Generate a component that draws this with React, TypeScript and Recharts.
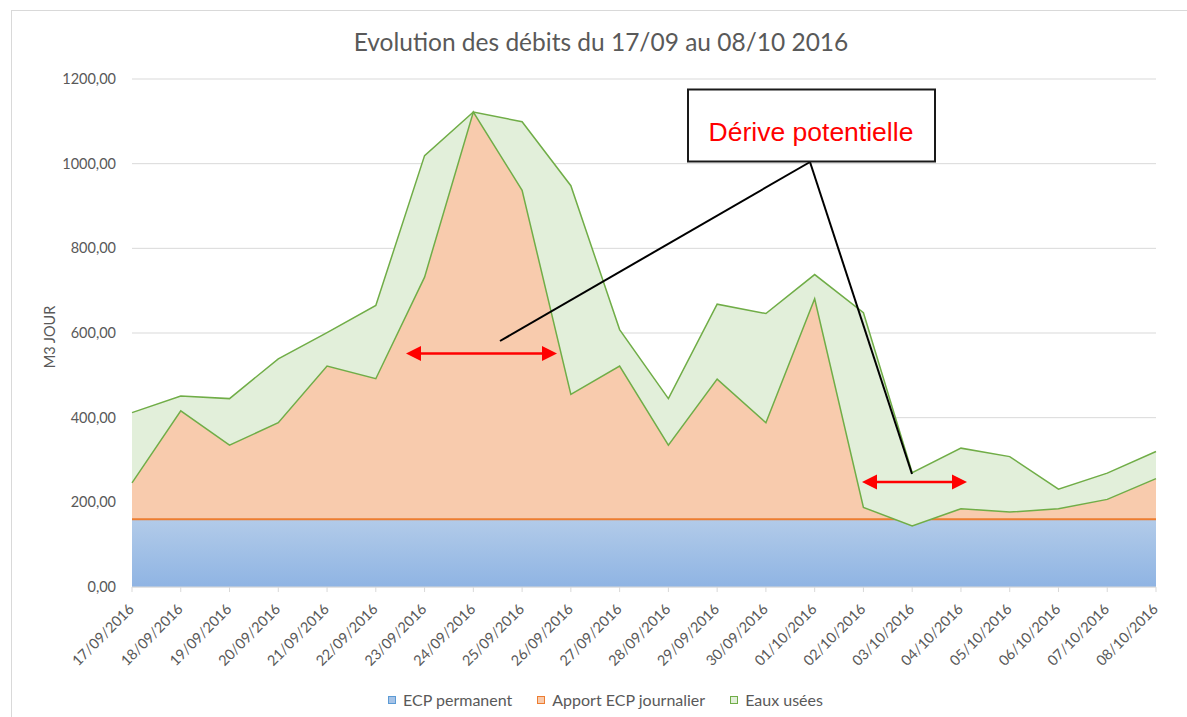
import { AreaChart, Area, XAxis, YAxis, CartesianGrid, Legend, Label } from 'recharts';

// Daily flows (m3/day)
const dates = [
  '17/09/2016', '18/09/2016', '19/09/2016', '20/09/2016', '21/09/2016', '22/09/2016',
  '23/09/2016', '24/09/2016', '25/09/2016', '26/09/2016', '27/09/2016', '28/09/2016',
  '29/09/2016', '30/09/2016', '01/10/2016', '02/10/2016', '03/10/2016', '04/10/2016',
  '05/10/2016', '06/10/2016', '07/10/2016', '08/10/2016',
];

// permanent parasitic water (constant base)
const ecpPermanent = [
  160, 160, 160, 160, 160, 160, 160, 160, 160, 160, 160,
  160, 160, 160, 160, 160, 160, 160, 160, 160, 160, 160,
];

// top of the "Apport ECP journalier" band (permanent + daily)
const ecpTotal = [
  246, 416, 335, 388, 522, 492, 732, 1122, 937, 455, 522,
  335, 491, 388, 681, 188, 144, 185, 177, 185, 207, 256,
];

// top of the "Eaux usées" band (total flow)
const totalFlow = [
  412, 451, 445, 539, 601, 665, 1019, 1122, 1099, 948, 608,
  445, 668, 646, 738, 648, 270, 328, 308, 231, 269, 320,
];

const yTicks = [0, 200, 400, 600, 800, 1000, 1200];

const legendItems = [
  { name: 'ECP permanent', fill: '#A6C3E7', stroke: '#5B9BD5' },
  { name: 'Apport ECP journalier', fill: '#F8CBAD', stroke: '#ED7D31' },
  { name: 'Eaux usées', fill: '#E2EFDA', stroke: '#70AD47' },
];

const TEXT = '#595959';
const FONT = 'Lato, "Open Sans", sans-serif';

const chartData = dates.map((date, i) => ({
  date,
  ecpPermanent: ecpPermanent[i],
  apport: [ecpPermanent[i], ecpTotal[i]],
  eaux: [ecpTotal[i], totalFlow[i]],
}));

function formatNumber(v: number): string {
  return v.toFixed(2).replace('.', ',');
}

function DateTick({ x, y, payload }: any) {
  const tx = x + 3;
  const ty = y + 16;
  return (
    <text
      x={tx}
      y={ty}
      transform={`rotate(-45, ${tx}, ${ty})`}
      textAnchor="end"
      fill={TEXT}
      fontSize={14.5}
      fontFamily={FONT}
    >
      {payload.value}
    </text>
  );
}

function LegendContent() {
  return (
    <div
      style={{
        display: 'flex',
        justifyContent: 'center',
        alignItems: 'center',
        gap: 25,
        paddingLeft: 24,
        fontFamily: FONT,
        fontSize: 16,
        color: TEXT,
      }}
    >
      {legendItems.map((item) => (
        <div key={item.name} style={{ display: 'flex', alignItems: 'center' }}>
          <span
            style={{
              display: 'inline-block',
              width: 6,
              height: 6,
              background: item.fill,
              border: `1px solid ${item.stroke}`,
              marginRight: 7,
            }}
          />
          <span>{item.name}</span>
        </div>
      ))}
    </div>
  );
}

function Annotations() {
  return (
    <svg width={1187} height={717} style={{ position: 'absolute', left: 0, top: 0, pointerEvents: 'none' }}>
      <text x={601} y={51} textAnchor="middle" fill={TEXT} fontSize={24.5} fontFamily={FONT}>
        Evolution des débits du 17/09 au 08/10 2016
      </text>

      {/* callout */}
      <line x1={810} y1={162} x2={500} y2={341} stroke="#000" strokeWidth={2} />
      <line x1={810} y1={162} x2={912} y2={474} stroke="#000" strokeWidth={2} />
      <rect x={688} y={89.5} width={247} height={72} fill="#fff" stroke="#1a1a1a" strokeWidth={2} />
      <text x={811} y={141} textAnchor="middle" fill="#FF0000" fontSize={26.5} fontFamily='"Liberation Sans", Arial, sans-serif'>
        Dérive potentielle
      </text>

      {/* red double arrows */}
      <line x1={418} y1={353.5} x2={545} y2={353.5} stroke="#FF0000" strokeWidth={2.5} />
      <polygon points="406,353.5 421,346 421,361" fill="#FF0000" />
      <polygon points="557,353.5 542,346 542,361" fill="#FF0000" />
      <line x1={874} y1={482} x2={955} y2={482} stroke="#FF0000" strokeWidth={2.5} />
      <polygon points="862,482 877,474.5 877,489.5" fill="#FF0000" />
      <polygon points="967,482 952,474.5 952,489.5" fill="#FF0000" />
    </svg>
  );
}

export default function App() {
  return (
    <div style={{ position: 'absolute', left: 0, top: 0, width: 1187, height: 717, overflow: 'hidden', background: '#fff' }}>
      <div
        style={{
          position: 'absolute',
          left: 11,
          top: 10,
          width: 1200,
          height: 720,
          border: '1px solid #D9D9D9',
        }}
      />
      <div style={{ position: 'absolute', left: 0, top: 0 }}>
        <AreaChart
          width={1187}
          height={717}
          data={chartData}
          margin={{ top: 79, right: 31, bottom: 0, left: 0 }}
        >
          <defs>
            <linearGradient id="blueFill" x1="0" y1="0" x2="0" y2="1">
              <stop offset="0%" stopColor="#B2CBE9" />
              <stop offset="100%" stopColor="#8FB4E3" />
            </linearGradient>
          </defs>
          <CartesianGrid vertical={false} stroke="#D9D9D9" strokeWidth={1} />
          <XAxis
            dataKey="date"
            interval={0}
            height={130}
            tick={<DateTick />}
            tickSize={5}
            tickMargin={2}
            tickLine={{ stroke: '#D9D9D9' }}
            axisLine={{ stroke: '#D9D9D9' }}
          />
          <YAxis
            width={132}
            domain={[0, 1200]}
            ticks={yTicks}
            tickFormatter={formatNumber}
            axisLine={false}
            tickLine={false}
            tickSize={0}
            tickMargin={16}
            tick={{ fill: TEXT, fontSize: 14.5, fontFamily: FONT }}
          >
            <Label
              content={({ viewBox }: any) => {
                const cx = 49;
                const cy = viewBox.y + viewBox.height / 2 + 4;
                return (
                  <text
                    x={cx}
                    y={cy}
                    transform={`rotate(-90, ${cx}, ${cy})`}
                    textAnchor="middle"
                    dominantBaseline="central"
                    fill={TEXT}
                    fontSize={14.5}
                    fontFamily={FONT}
                  >
                    M3 JOUR
                  </text>
                );
              }}
            />
          </YAxis>
          <Legend
            layout="horizontal"
            verticalAlign="middle"
            align="center"
            content={<LegendContent />}
            wrapperStyle={{ top: 690, left: 0, width: 1187 }}
          />
          {/* orange band first so the blue area's orange top edge stays fully visible */}
          <Area
            type="linear"
            dataKey="apport"
            name="Apport ECP journalier"
            fill="#F8CBAD"
            fillOpacity={1}
            stroke="none"
            isAnimationActive={false}
          />
          <Area
            type="linear"
            dataKey="ecpPermanent"
            name="ECP permanent"
            fill="url(#blueFill)"
            fillOpacity={1}
            stroke="#ED7D31"
            strokeWidth={2}
            isAnimationActive={false}
          />
          <Area
            type="linear"
            dataKey="eaux"
            name="Eaux usées"
            fill="#E2EFDA"
            fillOpacity={1}
            stroke="#70AD47"
            strokeWidth={1.5}
            isAnimationActive={false}
          />
        </AreaChart>
      </div>
      <Annotations />
    </div>
  );
}
